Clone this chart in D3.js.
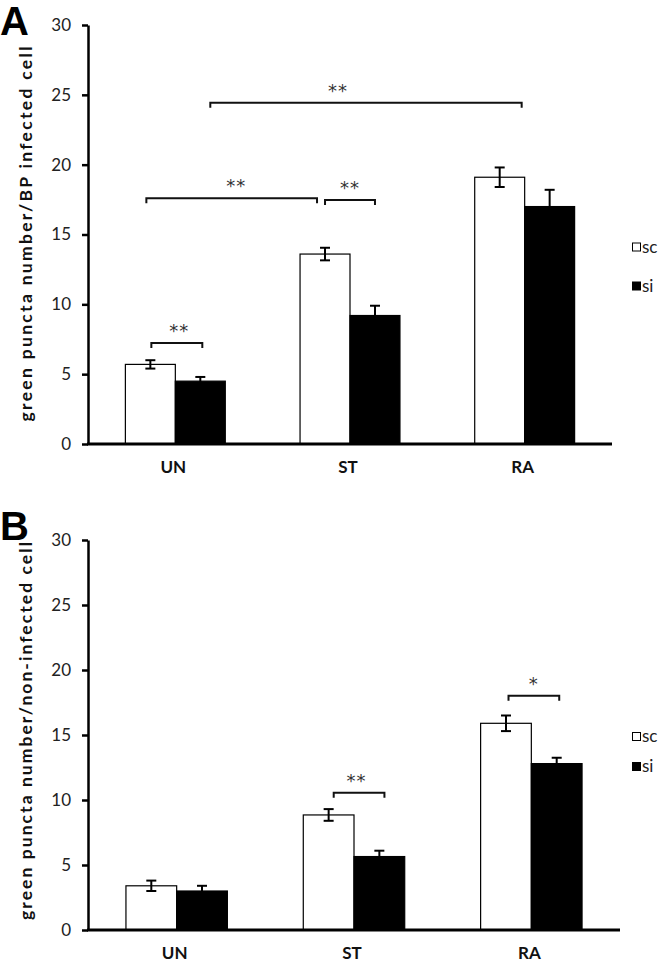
<!DOCTYPE html>
<html><head><meta charset="utf-8">
<script src="https://cdn.jsdelivr.net/npm/d3@7"></script>
<style>body{margin:0;background:#fff}svg{display:block}</style>
</head><body>
<svg id="chart" width="666" height="964"></svg>
<script>
// ---- data ----
const categories = ["UN", "ST", "RA"];
const seriesNames = ["sc", "si"];
const yTicks = [0, 5, 10, 15, 20, 25, 30];

const aSc = [5.7, 13.6, 19.1];
const aScErr = [0.3, 0.45, 0.7];
const aSi = [4.5, 9.2, 17.0];
const aSiErr = [0.3, 0.7, 1.2];

const bSc = [3.4, 8.85, 15.9];
const bScErr = [0.4, 0.45, 0.6];
const bSi = [3.0, 5.65, 12.8];
const bSiErr = [0.4, 0.45, 0.45];

// significance brackets: endpoints are [category, offset in bar widths from group centre]
const aSig = [
  {from: ["UN", -0.48], to: ["UN", 0.54], y: 7.23, label: "**", shift: 0.05},
  {from: ["UN", -0.58], to: ["ST", -0.66], y: 17.6, label: "**", shift: 0.09},
  {from: ["ST", -0.5], to: ["ST", 0.5], y: 17.47, label: "**", shift: 0},
  {from: ["UN", 0.7], to: ["RA", -0.06], y: 24.43, label: "**", shift: -0.56}
];
const bSig = [
  {from: ["ST", -0.4], to: ["ST", 0.6], y: 10.56, label: "**", shift: -0.05},
  {from: ["RA", -0.45], to: ["RA", 0.55], y: 18.02, label: "*", shift: 0}
];

const panels = [
  {letter: "A", title: "green puncta number/BP infected cell",
   sc: aSc, scErr: aScErr, si: aSi, siErr: aSiErr, sig: aSig,
   top: 25, bottom: 444, left: 88, right: 612, letterY: 35,
   titleCenter: 234, titleLen: 375, legendY: [247.5, 286.5]},
  {letter: "B", title: "green puncta number/non-infected cell",
   sc: bSc, scErr: bScErr, si: bSi, siErr: bSiErr, sig: bSig,
   top: 540, bottom: 930, left: 88, right: 620, letterY: 540,
   titleCenter: 731, titleLen: 378, legendY: [737, 767]}
];

const svg = d3.select("#chart");
const FONT = "Lato, 'Open Sans', sans-serif";

panels.forEach(p => {
  const g = svg.append("g");
  const y = d3.scaleLinear().domain([0, 30]).range([p.bottom, p.top]);
  const x0 = d3.scaleBand().domain(categories).range([p.left, p.right]).padding(0);
  const bw = x0.step() * 0.286;
  const x1 = d3.scaleBand().domain(seriesNames).range([-bw, bw]).padding(0);
  const cx = c => x0(c) + x0.bandwidth() / 2;

  // panel letter
  g.append("text").attr("x", 0).attr("y", p.letterY)
    .attr("font-family", "Liberation Sans, Arial, sans-serif").attr("font-weight", "bold")
    .attr("font-size", 40).text(p.letter);

  // y axis
  const yAxis = d3.axisLeft(y).tickValues(yTicks).tickSize(6).tickPadding(11).tickSizeOuter(0);
  const ya = g.append("g").attr("transform", `translate(${p.left},0)`).call(yAxis);
  ya.select(".domain").attr("stroke", "#000").attr("stroke-width", 2.5);
  ya.selectAll(".tick line").attr("stroke", "#000").attr("stroke-width", 2.5);
  ya.selectAll(".tick text").attr("font-family", FONT).attr("font-size", 17).attr("fill", "#222");

  // y title
  g.append("text")
    .attr("transform", `translate(32,${p.titleCenter}) rotate(-90)`)
    .attr("text-anchor", "middle").attr("font-family", FONT).attr("font-weight", "bold")
    .attr("font-size", 17.5).attr("textLength", p.titleLen).attr("lengthAdjust", "spacing")
    .attr("fill", "#111").text(p.title);

  // bars
  const series = [
    {name: "sc", vals: p.sc, errs: p.scErr, fill: "#fff"},
    {name: "si", vals: p.si, errs: p.siErr, fill: "#000"}
  ];
  series.forEach(s => {
    categories.forEach((c, i) => {
      const bx = cx(c) + x1(s.name);
      g.append("rect").attr("x", bx).attr("y", y(s.vals[i]))
        .attr("width", bw).attr("height", y(0) - y(s.vals[i]))
        .attr("fill", s.fill).attr("stroke", "#000").attr("stroke-width", 1.2);
    });
  });
  // error bars
  series.forEach(s => {
    categories.forEach((c, i) => {
      const ex = cx(c) + x1(s.name) + bw / 2;
      const hi = y(s.vals[i] + s.errs[i]), lo = y(s.vals[i] - s.errs[i]);
      const eg = g.append("g").attr("stroke", "#000").attr("stroke-width", 2);
      eg.append("line").attr("x1", ex).attr("x2", ex).attr("y1", hi).attr("y2", lo);
      eg.append("line").attr("x1", ex - 5).attr("x2", ex + 5).attr("y1", hi).attr("y2", hi);
      eg.append("line").attr("x1", ex - 5).attr("x2", ex + 5).attr("y1", lo).attr("y2", lo);
    });
  });

  // x axis
  g.append("line").attr("x1", p.left - 1).attr("x2", p.right).attr("y1", y(0)).attr("y2", y(0))
    .attr("stroke", "#000").attr("stroke-width", 3);
  categories.forEach(c => {
    g.append("text").attr("x", cx(c) - 2).attr("y", y(0) + 29)
      .attr("text-anchor", "middle").attr("font-family", FONT).attr("font-weight", "bold")
      .attr("font-size", 17).attr("fill", "#111").text(c);
  });

  // significance brackets
  p.sig.forEach(b => {
    const xa = cx(b.from[0]) + b.from[1] * bw;
    const xb = cx(b.to[0]) + b.to[1] * bw;
    const yy = y(b.y);
    g.append("path")
      .attr("d", `M${xa},${yy + 5} L${xa},${yy} L${xb},${yy} L${xb},${yy + 5}`)
      .attr("fill", "none").attr("stroke", "#111").attr("stroke-width", 2);
    g.append("text").attr("x", (xa + xb) / 2 + b.shift * bw).attr("y", yy - 6)
      .attr("text-anchor", "middle").attr("font-family", "DejaVu Sans, sans-serif")
      .attr("font-size", 18).attr("fill", "#333").attr("letter-spacing", 1).text(b.label);
  });

  // legend
  seriesNames.forEach((n, i) => {
    const ly = p.legendY[i];
    g.append("rect").attr("x", 632.5).attr("y", ly - 4.5).attr("width", 8).attr("height", 8)
      .attr("fill", n === "sc" ? "#fff" : "#000").attr("stroke", "#000").attr("stroke-width", 1);
    g.append("text").attr("x", 642).attr("y", ly + 5)
      .attr("font-family", FONT).attr("font-size", 17).attr("fill", "#222").text(n);
  });
});
</script>
</body></html>
